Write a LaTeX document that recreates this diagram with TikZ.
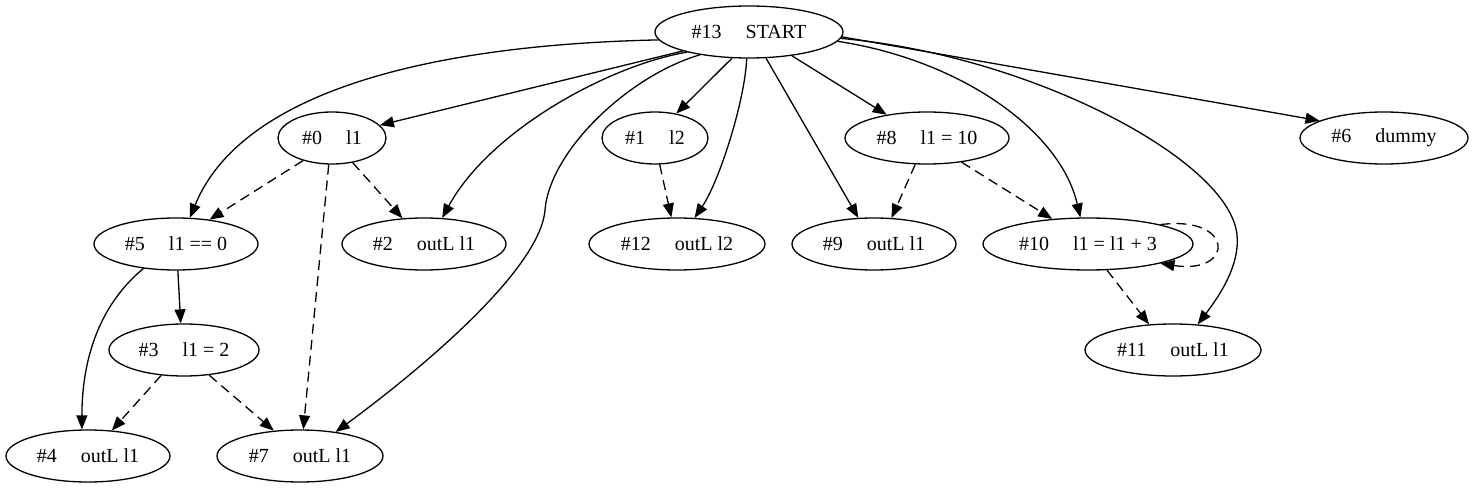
\documentclass[tikz,border=0pt]{standalone}
\usepackage{fontspec}
\setmainfont{Liberation Serif}
\usetikzlibrary{arrows.meta,shapes.geometric}
\newcommand{\lblgap}{\hspace{24pt}}
\tikzset{
  gnode/.style={ellipse, draw, line width=1.3pt, minimum height=52pt, inner sep=0pt, font=\fontsize{20}{24}\selectfont},
  edge/.style={line width=1.3pt, -{Triangle[length=14pt,width=11pt]}},
  dedge/.style={edge, dash pattern=on 10pt off 6pt},
}
\begin{document}
\begin{tikzpicture}[x=1pt,y=-1pt]
\useasboundingbox (0,0) rectangle (1475,489);
% nodes
\node[gnode, minimum width=188pt] (n13) at (749,32)  {\#13\lblgap START};
\node[gnode, minimum width=108pt] (n0)  at (332,138) {\#0\lblgap l1};
\node[gnode, minimum width=106pt] (n1)  at (655,138) {\#1\lblgap l2};
\node[gnode, minimum width=164pt] (n8)  at (927,138) {\#8\lblgap l1 = 10};
\node[gnode, minimum width=168pt] (n6)  at (1384,138) {\#6\lblgap dummy};
\node[gnode, minimum width=164pt] (n5)  at (176,244) {\#5\lblgap l1 == 0};
\node[gnode, minimum width=164pt] (n2)  at (424,244) {\#2\lblgap outL l1};
\node[gnode, minimum width=176pt] (n12) at (677,244) {\#12\lblgap outL l2};
\node[gnode, minimum width=164pt] (n9)  at (874,244) {\#9\lblgap outL l1};
\node[gnode, minimum width=210pt] (n10) at (1088,244) {\#10\lblgap l1 = l1 + 3};
\node[gnode, minimum width=150pt] (n3)  at (184,350) {\#3\lblgap l1 = 2};
\node[gnode, minimum width=176pt] (n11) at (1173,350) {\#11\lblgap outL l1};
\node[gnode, minimum width=164pt] (n4)  at (88,456)  {\#4\lblgap outL l1};
\node[gnode, minimum width=166pt] (n7)  at (300,456) {\#7\lblgap outL l1};
% solid edges from START
\draw[edge] (n13.185) .. controls (420,45) and (240,95) .. (n5.62);
\draw[edge] (n13.198) .. controls (610,65) and (490,130) .. (n2.55);
\draw[edge] (n13.205) .. controls (630,75) and (550,150) .. (545,210) .. controls (540,270) and (420,370) .. (n7.34);
\draw[edge] (n13.196) -- (n0.15);
\draw[edge] (n13.237) -- (n1.49);
\draw[edge] (n13.265) .. controls (745,100) and (720,180) .. (n12.56);
\draw[edge] (n13.303) -- (n9.121);
\draw[edge] (n13.331) -- (n8.150);
\draw[edge] (n13.354) .. controls (960,60) and (1060,130) .. (n10.106);
\draw[edge] (n13.356) .. controls (1030,55) and (1230,160) .. (1237,235) .. controls (1240,265) and (1220,295) .. (n11.46);
\draw[edge] (n13.357) -- (n6.165);
% other edges
\draw[dedge] (n0.218) -- (n5.36);
\draw[dedge] (n0.263) -- (n7.83);
\draw[dedge] (n0.310) -- (n2.130);
\draw[dedge] (n1.280) -- (n12.102);
\draw[dedge] (n8.246) -- (n9.56);
\draw[dedge] (n8.325) -- (n10.145);
\draw[dedge] (n10.15) .. controls (1235,215) and (1235,275) .. (n10.345);
\draw[dedge] (n10.306) -- (n11.133);
\draw[edge] (n5.274) -- (n3.97);
\draw[edge] (n5.217) .. controls (105,300) and (82,350) .. (n4.103);
\draw[dedge] (n3.228) -- (n4.47);
\draw[dedge] (n3.315) -- (n7.136);
\end{tikzpicture}
\end{document}
